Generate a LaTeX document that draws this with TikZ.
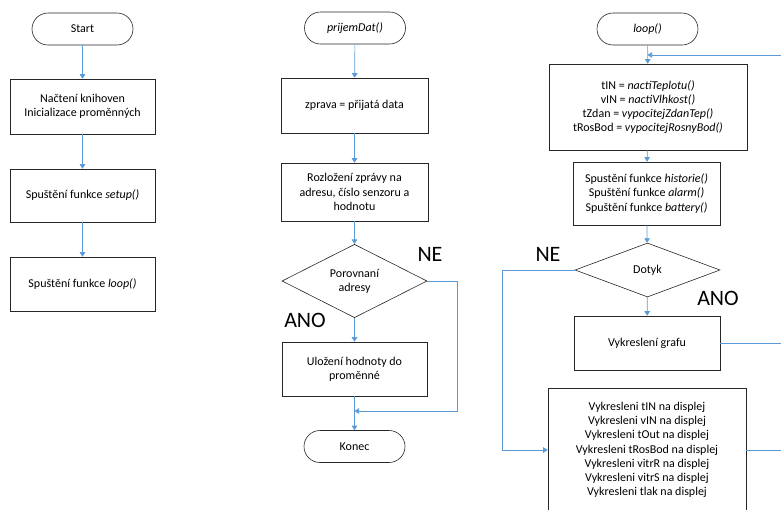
\documentclass[tikz,border=0pt]{standalone}
\usepackage{fontspec}
\setmainfont{Carlito}
\usetikzlibrary{shapes.geometric,arrows.meta}
\definecolor{lineblue}{HTML}{5B9BD5}
\tikzset{
  box/.style={draw=black!85, line width=0.6pt, align=center, inner sep=2pt, font=\fontsize{12}{14.2}\selectfont},
  term/.style={box, rounded corners=16pt, minimum width=101pt, minimum height=32pt},
  dec/.style={box, diamond, inner sep=0pt, minimum width=145pt, minimum height=54pt},
  e/.style={draw=lineblue, line width=0.7pt, -{Triangle[length=4.5pt,width=5.5pt,fill=lineblue]}},
  l/.style={draw=lineblue, line width=0.7pt},
  lbl/.style={font=\fontsize{22}{24}\selectfont}
}

\begin{document}
\begin{tikzpicture}[x=1pt, y=-1pt]
  \useasboundingbox (0,0) rectangle (781,509);

  % setup
  \node[term] (start) at (82.5, 29) {Start};
  \node[box, minimum width=145pt, minimum height=55pt] (init) at (82.5, 106.5) {Načtení knihoven\\Inicializace proměnných};
  \node[box, minimum width=145pt, minimum height=53pt] (setup) at (82.5, 195.5) {Spuštění funkce \textit{setup()}};
  \node[box, minimum width=145pt, minimum height=54pt] (loopc) at (82.5, 284) {Spuštění funkce \textit{loop()}};

  \draw[e] (start) -- (init);
  \draw[e] (init) -- (setup);
  \draw[e] (setup) -- (loopc);

  % prijemDat
  \node[term] (prijem) at (355, 28) {\textit{prijemDat()}};
  \node[box, minimum width=147pt, minimum height=55pt] (zprava) at (354.5, 105.5) {zprava = přijatá data};
  \node[box, minimum width=147pt, minimum height=58pt] (rozlo) at (354.5, 192) {Rozložení zprávy na\\adresu, číslo senzoru a\\hodnotu};
  \node[dec] (cmp) at (354.5, 281) {Porovnaní\\adresy};
  \node[box, minimum width=145pt, minimum height=54pt] (uloz) at (354.5, 369) {Uložení hodnoty do\\proměnné};
  \node[term] (konec) at (354.5, 446.5) {Konec};
  \coordinate (j2) at (354.5, 411);
  \node[lbl] (ne1) at (430, 254) {NE};
  \node[lbl] (ano1) at (305, 320) {ANO};

  \draw[e] (prijem) -- (zprava);
  \draw[e] (zprava) -- (rozlo);
  \draw[e] (rozlo) -- (cmp);
  \draw[e] (cmp) -- (uloz);
  \draw[e] (uloz) -- (konec);
  \draw[e] (cmp.east) -- ++(30,0) |- (j2);

  % loop
  \node[term] (loopt) at (647.5, 29) {\textit{loop()}};
  \node[box, minimum width=198pt, minimum height=86pt] (meas) at (648, 107) {tIN = \textit{nactiTeplotu()}\\vIN = \textit{nactiVlhkost()}\\tZdan = \textit{vypocitejZdanTep()}\\tRosBod = \textit{vypocitejRosnyBod()}};
  \node[box, minimum width=147pt, minimum height=63pt] (funk) at (646.5, 193.5) {Spustění funkce \textit{historie()}\\Spuštění funkce \textit{alarm()}\\Spuštění funkce \textit{battery()}};
  \node[dec] (dotyk) at (647.5, 270) {Dotyk};
  \node[box, minimum width=146pt, minimum height=54pt] (graf) at (647, 343) {Vykreslení grafu};
  \node[box, minimum width=198pt, minimum height=124pt] (vypis) at (647, 450) {Vykresleni tIN na displej\\Vykresleni vIN na displej\\Vykresleni tOut na displej\\Vykresleni tRosBod na displej\\Vykresleni vitrR na displej\\Vykresleni vitrS na displej\\Vykresleni tlak na displej};
  \node[lbl] (ne2) at (548, 254) {NE};
  \node[lbl] (ano2) at (718, 298) {ANO};
  \coordinate (j1) at (647.5, 55);
  \coordinate (rb) at (792, 450);
  \coordinate (rg) at (792, 343);

  \draw[e] (loopt) -- (meas);
  \draw[e] (meas) -- (funk);
  \draw[e] (funk) -- (dotyk);
  \draw[e] (dotyk) -- (graf);
  \draw[e] (dotyk.west) -- ++(-72,0) |- (vypis.west);
  \draw[l] (graf.east) -- (rg);
  \draw[e] (vypis.east) -- (rb) |- (j1);
\end{tikzpicture}
\end{document}
